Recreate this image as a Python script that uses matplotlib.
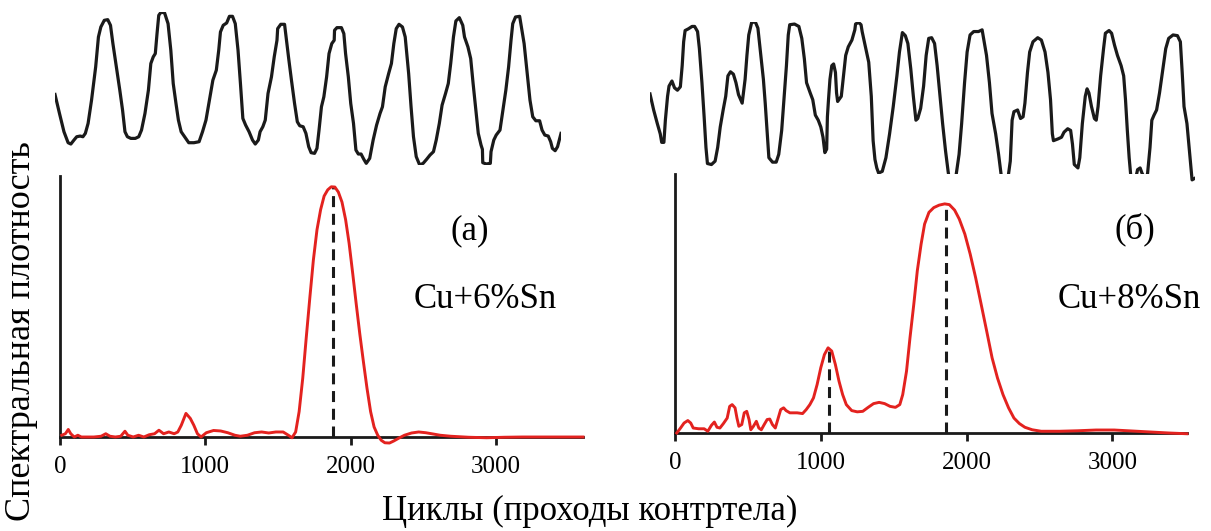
import numpy as np
import matplotlib.pyplot as plt

plt.rcParams['font.family'] = ['Liberation Serif', 'DejaVu Serif']

# --- сигнал трения (верхние кривые), условные единицы ---
wave_a_t = [42, 55, 68, 80, 88, 97, 105, 115, 123, 130, 138, 148, 160, 168, 175, 185, 195, 203, 210, 220,
            230, 238, 245, 252, 262, 275, 285, 293, 303, 313, 320, 327, 333, 338, 343, 350, 360, 370, 378, 385,
            393, 400, 408, 418, 430, 445, 460, 470, 480, 490, 500, 510, 517, 522, 530, 540, 548, 557, 565, 573,
            580, 587, 595, 605, 615, 623, 632, 637, 645, 652, 660, 670, 678, 686, 688, 697, 708, 713, 720, 728,
            737, 745, 752, 762, 770, 778, 785, 795, 802, 808, 815, 822, 830, 837, 845, 852, 853, 860, 873, 880,
            885, 893, 900, 908, 915, 922, 930, 938, 945, 955, 965, 975, 985, 992, 1000, 1010, 1018, 1025, 1032, 1040,
            1050, 1058, 1068, 1075, 1082, 1090, 1100, 1110, 1120, 1130, 1140, 1148, 1157, 1165, 1175, 1183, 1190, 1198, 1205, 1215,
            1225, 1230, 1240, 1248, 1255, 1262, 1270, 1278, 1282, 1283, 1293, 1305, 1307, 1315, 1322, 1333, 1340, 1350, 1358, 1365,
            1370, 1378, 1390, 1395, 1403, 1410, 1420, 1428, 1437, 1448, 1455, 1463, 1473, 1480, 1485, 1493, 1500, 1505, 1510]
wave_a_y = [283, 340, 395, 428, 432, 420, 410, 408, 410, 400, 370, 300, 200, 110, 80, 60, 58, 75, 130, 200,
            270, 330, 395, 410, 415, 415, 410, 390, 340, 270, 190, 170, 160, 100, 45, 35, 38, 70, 150, 250,
            310, 360, 395, 410, 428, 428, 425, 395, 360, 300, 240, 210, 150, 95, 75, 68, 48, 48, 70, 150,
            250, 355, 375, 395, 420, 432, 420, 395, 380, 360, 280, 230, 170, 120, 85, 72, 72, 115, 175, 240,
            310, 365, 377, 380, 400, 440, 458, 460, 445, 390, 320, 290, 230, 160, 130, 120, 90, 82, 82, 100,
            160, 230, 310, 370, 450, 462, 462, 478, 490, 475, 420, 375, 340, 320, 260, 220, 190, 130, 85, 72,
            80, 110, 220, 320, 410, 470, 495, 490, 478, 465, 455, 420, 370, 315, 280, 250, 190, 110, 62, 52,
            75, 110, 140, 175, 250, 320, 400, 435, 448, 488, 492, 490, 455, 420, 405, 390, 340, 270, 200, 120,
            70, 50, 48, 80, 130, 200, 300, 350, 362, 362, 390, 405, 408, 425, 445, 452, 440, 420, 400]

wave_b_t = [30, 40, 50, 58, 62, 68, 72, 78, 82, 90, 97, 105, 113, 118, 122, 126, 135, 145, 152, 160,
            165, 172, 178, 183, 187, 198, 208, 215, 222, 230, 237, 243, 250, 258, 265, 272, 282, 290, 295, 300,
            308, 318, 325, 332, 340, 345, 350, 355, 365, 375, 382, 390, 397, 403, 408, 412, 425, 437, 445, 452,
            458, 468, 475, 482, 490, 497, 503, 508, 513, 515, 518, 522, 527, 532, 537, 540, 543, 553, 558, 565,
            572, 582, 590, 592, 600, 607, 610, 620, 628, 635, 640, 645, 650, 655, 665, 675, 685, 695, 705, 712,
            720, 728, 735, 743, 750, 757, 762, 770, 778, 785, 792, 800, 808, 815, 822, 830, 838, 845, 850, 860,
            867, 875, 882, 890, 897, 905, 915, 928, 938, 942, 950, 958, 965, 975, 983, 990, 998, 1008, 1015, 1020,
            1025, 1035, 1043, 1050, 1055, 1062, 1068, 1077, 1090, 1100, 1110, 1118, 1125, 1130, 1133, 1145, 1155, 1162, 1172, 1180,
            1185, 1190, 1200, 1205, 1212, 1220, 1225, 1230, 1237, 1245, 1250, 1255, 1262, 1270, 1275, 1285, 1292, 1300, 1308, 1318,
            1325, 1330, 1335, 1340, 1345, 1355, 1360, 1363, 1370, 1375, 1380, 1390, 1397, 1402, 1408, 1415, 1423, 1432, 1440, 1448,
            1460, 1472, 1480, 1485, 1490, 1498, 1503, 1507, 1512, 1520]
wave_b_y = [283, 330, 370, 400, 425, 425, 360, 290, 260, 245, 265, 272, 262, 200, 130, 97, 92, 85, 85, 100,
            150, 250, 350, 440, 487, 490, 480, 440, 380, 330, 290, 230, 218, 225, 250, 285, 310, 240, 170, 110,
            73, 72, 90, 160, 240, 310, 390, 470, 483, 483, 460, 390, 290, 200, 110, 80, 78, 85, 120, 180,
            250, 280, 300, 345, 360, 380, 410, 455, 445, 350, 300, 240, 200, 195, 220, 280, 305, 290, 240, 170,
            145, 125, 95, 78, 73, 80, 100, 150, 190, 290, 420, 475, 500, 515, 510, 470, 400, 320, 230, 160,
            103, 112, 135, 210, 290, 360, 355, 325, 260, 170, 120, 118, 135, 200, 280, 370, 450, 510, 545, 550,
            520, 460, 370, 250, 160, 110, 100, 100, 95, 120, 170, 250, 340, 400, 460, 520, 540, 535, 480, 360,
            335, 330, 355, 350, 310, 220, 160, 130, 118, 125, 160, 220, 300, 400, 420, 415, 410, 395, 385, 390,
            430, 490, 500, 470, 370, 290, 268, 280, 320, 355, 360, 320, 230, 150, 105, 97, 105, 140, 170, 200,
            230, 300, 390, 470, 530, 540, 520, 505, 500, 515, 525, 520, 440, 360, 345, 330, 280, 210, 150, 120,
            110, 112, 130, 220, 320, 370, 430, 480, 535, 530]

# --- спектральная плотность (нормированная), x - циклы ---
spec_a_x = [12, 37, 57, 74, 98, 123, 147, 184, 233, 283, 315, 344, 381, 418, 447, 467, 504, 541, 577, 614,
            651, 681, 713, 749, 786, 811, 835, 867, 897, 921, 946, 971, 1007, 1057, 1106, 1155, 1204, 1241, 1290, 1339,
            1388, 1437, 1486, 1536, 1572, 1597, 1622, 1646, 1671, 1695, 1720, 1744, 1769, 1794, 1818, 1843, 1867, 1892, 1916, 1941,
            1966, 1990, 2015, 2039, 2064, 2088, 2113, 2138, 2162, 2187, 2211, 2236, 2268, 2297, 2334, 2371, 2420, 2469, 2518, 2568,
            2617, 2690, 2813, 2936, 3059, 3182, 3305, 3428, 3600]
spec_a_y = [0.007, 0.013, 0.030, 0.013, 0.000, 0.007, 0.000, 0.000, 0.000, 0.003, 0.013, 0.003, 0.000, 0.003, 0.023, 0.007, 0.000, 0.007, 0.000, 0.009,
            0.013, 0.027, 0.013, 0.020, 0.013, 0.020, 0.047, 0.094, 0.074, 0.047, 0.013, 0.000, 0.017, 0.026, 0.024, 0.017, 0.007, 0.003, 0.007, 0.017,
            0.020, 0.016, 0.020, 0.020, 0.007, -0.003, 0.020, 0.101, 0.235, 0.396, 0.557, 0.705, 0.826, 0.906, 0.960, 0.985, 0.997, 0.996, 0.976, 0.936,
            0.866, 0.772, 0.651, 0.530, 0.409, 0.302, 0.195, 0.101, 0.040, 0.007, -0.013, -0.023, -0.024, -0.016, -0.004, 0.007, 0.016, 0.020, 0.017, 0.012,
            0.007, 0.003, -0.001, -0.003, -0.001, 0.000, 0.000, 0.000, 0.000]

spec_b_x = [12, 38, 62, 88, 108, 125, 162, 200, 225, 250, 270, 288, 308, 332, 358, 375, 392, 412, 425, 438,
            458, 475, 492, 508, 520, 538, 558, 575, 592, 612, 632, 650, 668, 688, 708, 725, 745, 762, 788, 838,
            875, 900, 925, 950, 975, 1000, 1025, 1050, 1075, 1100, 1125, 1150, 1175, 1212, 1250, 1288, 1325, 1362, 1400, 1438,
            1475, 1512, 1542, 1562, 1588, 1612, 1638, 1662, 1688, 1712, 1742, 1775, 1812, 1850, 1882, 1918, 1950, 1988, 2025, 2062,
            2100, 2138, 2175, 2212, 2250, 2288, 2325, 2362, 2400, 2450, 2512, 2638, 2762, 2888, 3012, 3138, 3262, 3388, 3512]
spec_b_y = [0.000, 0.020, 0.040, 0.050, 0.040, 0.020, 0.017, 0.017, 0.007, 0.031, 0.044, 0.023, 0.020, 0.038, 0.060, 0.107, 0.114, 0.101, 0.060, 0.027,
            0.034, 0.081, 0.087, 0.054, 0.013, 0.027, 0.047, 0.020, 0.013, 0.034, 0.054, 0.056, 0.034, 0.020, 0.060, 0.094, 0.101, 0.090, 0.081, 0.081,
            0.078, 0.094, 0.114, 0.141, 0.195, 0.262, 0.315, 0.342, 0.329, 0.275, 0.208, 0.154, 0.114, 0.090, 0.085, 0.087, 0.103, 0.118, 0.123, 0.118,
            0.107, 0.103, 0.114, 0.154, 0.248, 0.383, 0.517, 0.651, 0.758, 0.839, 0.886, 0.905, 0.915, 0.920, 0.917, 0.895, 0.859, 0.799, 0.718, 0.624,
            0.517, 0.409, 0.302, 0.221, 0.154, 0.101, 0.060, 0.038, 0.023, 0.013, 0.007, 0.007, 0.009, 0.012, 0.012, 0.008, 0.004, 0.000, -0.003]

peaks_a = [1880]
peaks_b = [1055, 1860]
xticks = [0, 1000, 2000, 3000]

W, H = 1211, 531
fig = plt.figure(figsize=(W / 100, H / 100), dpi=100)


def box(x0, y0, x1, y1):
    # пиксели (от верхнего левого угла) -> доли фигуры
    return [x0 / W, 1 - y1 / H, (x1 - x0) / W, (y1 - y0) / H]


def px(x, y):
    return x / W, 1 - y / H


def wave_axes(rect, t, y):
    ax = fig.add_axes(rect)
    t = np.asarray(t, float)
    amp = 500 - np.asarray(y, float)
    ax.plot(t, amp, color='#1a1a1a', lw=2.3, solid_joinstyle='round')
    ax.set_xlim(t.min(), t.max())
    ax.set_ylim(amp.min(), amp.max())
    ax.axis('off')
    return ax


def spec_axes(rect, x, y, peaks, xmax):
    ax = fig.add_axes(rect)
    x = np.asarray(x, float)
    y = np.asarray(y, float)
    ax.plot(x, y, color='#e3221f', lw=2.1, clip_on=False, zorder=3)
    for p in peaks:
        top = np.interp(p, x, y)
        ax.plot([p, p], [0, top], color='#1a1a1a', lw=2.2, ls=(0, (3.6, 2.2)), zorder=2)
    ax.set_xlim(0, xmax)
    ax.set_ylim(0, 1.04)
    for s in ('top', 'right'):
        ax.spines[s].set_visible(False)
    for s in ('left', 'bottom'):
        ax.spines[s].set_linewidth(2.0)
        ax.spines[s].set_color('#1a1a1a')
    ax.set_yticks([])
    ax.set_xticks(xticks)
    ax.tick_params(axis='x', direction='out', length=6, width=2, color='#1a1a1a',
                   pad=8, labelsize=18)
    return ax


wave_axes(box(55, 12, 561, 165), wave_a_t, wave_a_y)
wave_axes(box(650, 22, 1195, 185), wave_b_t, wave_b_y)

spec_axes(box(60, 176, 583, 437), spec_a_x, spec_a_y, peaks_a, 3600)
spec_axes(box(675, 174, 1187, 433), spec_b_x, spec_b_y, peaks_b, 3512)

fig.text(*px(470, 231), '(a)', fontsize=25, ha='center', va='center')
fig.text(*px(485, 299), 'Cu+6%Sn', fontsize=25, ha='center', va='center')
fig.text(*px(1135, 229), '(б)', fontsize=25, ha='center', va='center')
fig.text(*px(1129, 299), 'Cu+8%Sn', fontsize=25, ha='center', va='center')

fig.text(*px(590, 511), 'Циклы (проходы контртела)', fontsize=25, ha='center', va='center')
fig.text(*px(22, 331), 'Спектральная плотность', fontsize=26, rotation=90,
         ha='center', va='center')

fig.savefig('out.png', dpi=100)
